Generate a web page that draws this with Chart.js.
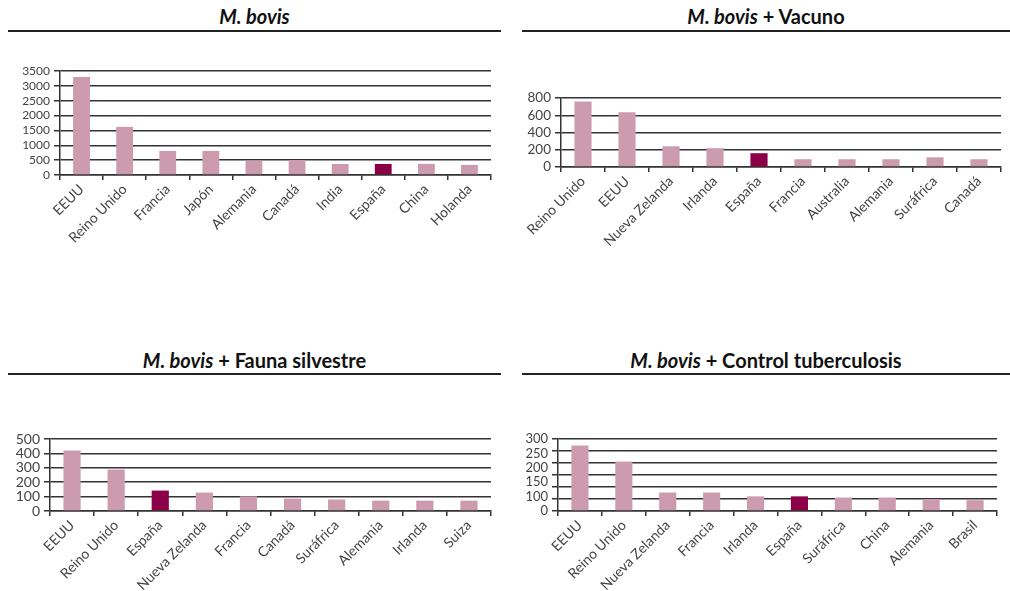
<!DOCTYPE html>
<html>
<head>
<meta charset="utf-8">
<script src="https://cdn.jsdelivr.net/npm/chart.js@4.4.0/dist/chart.umd.min.js"></script>
<style>
  body { margin: 0; background: #fff; width: 1010px; height: 591px; overflow: hidden; position: relative; font-family: Lato, sans-serif; }
  .title { position: absolute; text-align: center; font-weight: bold; font-size: 20px; line-height: 22px; color: #111; }
  .rule { position: absolute; height: 0; border-top: 2px solid #222; }
  .box { position: absolute; }
</style>
</head>
<body>
<div class="title" style="left:8px;top:5px;width:493px"><i>M. bovis</i></div>
<div class="rule" style="left:8px;top:30px;width:493px"></div>
<div class="title" style="left:522px;top:5px;width:488px"><i>M. bovis</i> + Vacuno</div>
<div class="rule" style="left:522px;top:30px;width:488px"></div>
<div class="title" style="left:8px;top:349px;width:493px"><i>M. bovis</i> + Fauna silvestre</div>
<div class="rule" style="left:8px;top:373px;width:493px"></div>
<div class="title" style="left:522px;top:349px;width:488px"><i>M. bovis</i> + Control tuberculosis</div>
<div class="rule" style="left:522px;top:373px;width:488px"></div>

<div class="box" style="left:0;top:55px;width:505px;height:200px"><canvas id="c1"></canvas></div>
<div class="box" style="left:505px;top:60px;width:505px;height:200px"><canvas id="c2"></canvas></div>
<div class="box" style="left:0;top:400px;width:505px;height:191px"><canvas id="c3"></canvas></div>
<div class="box" style="left:505px;top:400px;width:505px;height:191px"><canvas id="c4"></canvas></div>

<script>
// datos de cada grafico
const cats1 = ['EEUU', 'Reino Unido', 'Francia', 'Japón', 'Alemania', 'Canadá', 'India', 'España', 'China', 'Holanda'];
const vals1 = [3300, 1620, 810, 810, 480, 505, 370, 370, 375, 340];
const ticks1 = ['0', '500', '1000', '1500', '2000', '2500', '3000', '3500'];

const cats2 = ['Reino Unido', 'EEUU', 'Nueva Zelanda', 'Irlanda', 'España', 'Francia', 'Australia', 'Alemania', 'Suráfrica', 'Canadá'];
const vals2 = [760, 635, 240, 218, 160, 90, 90, 90, 112, 90];
const ticks2 = ['0', '200', '400', '600', '800'];

const cats3 = ['EEUU', 'Reino Unido', 'España', 'Nueva Zelanda', 'Francia', 'Canadá', 'Suráfrica', 'Alemania', 'Irlanda', 'Suiza'];
const vals3 = [420, 288, 142, 128, 102, 86, 80, 72, 72, 72];
const ticks3 = ['0', '100', '200', '300', '400', '500'];

const cats4 = ['EEUU', 'Reino Unido', 'Nueva Zelanda', 'Francia', 'Irlanda', 'España', 'Suráfrica', 'China', 'Alemania', 'Brasil'];
const vals4 = [273, 206, 77, 77, 61, 61, 56, 56, 50, 45];
const ticks4 = ['0', '100', '150', '200', '250', '300'];

const PINK = '#CC9BAE';
const SPAIN = '#8C0048';
const LINE = '#333';

function makeChart(id, cats, vals, yMax, yStep, tickLabels, b) {
	new Chart(document.getElementById(id), {
		type: 'bar',
		data: {
			labels: cats,
			datasets: [{
				data: vals,
				yAxisID: 'y',
				backgroundColor: cats.map(c => c === 'España' ? SPAIN : PINK),
				barPercentage: 0.39,
				categoryPercentage: 1
			}]
		},
		options: {
			responsive: true,
			maintainAspectRatio: false,
			animation: false,
			layout: { padding: { top: b.padTop, right: b.padRight, left: 0, bottom: 0 } },
			plugins: { legend: { display: false }, tooltip: { enabled: false } },
			scales: {
				x: {
					grid: { display: true, drawOnChartArea: false, drawTicks: true, tickLength: 5, color: LINE, lineWidth: 1.5, offset: true },
					border: { display: true, color: LINE, width: 1.5 },
					ticks: { autoSkip: false, maxRotation: 45, minRotation: 45, padding: 1, color: '#444', font: { family: 'Lato', size: 14 } },
					afterFit: s => { s.height = b.xHeight; }
				},
				// etiquetas del eje y (repartidas igual que en el original)
				yLab: {
					type: 'linear',
					position: 'left',
					weight: 1,
					min: 0,
					max: tickLabels.length - 1,
					grid: { display: false, drawTicks: false },
					border: { display: false },
					ticks: { stepSize: 1, autoSkip: false, padding: 4, color: '#444', font: { family: 'Lato', size: b.yFont }, callback: v => tickLabels[Math.round(v)] },
					afterFit: s => { s.width = b.yWidth - 6; }
				},
				y: {
					type: 'linear',
					position: 'left',
					weight: 0,
					min: 0,
					max: yMax,
					grid: { color: LINE, lineWidth: 1.5, drawTicks: true, tickLength: 6 },
					border: { display: true, color: LINE, width: 1.5 },
					ticks: { display: false, stepSize: yStep, autoSkip: false },
					afterFit: s => { s.width = 6; }
				}
			}
		}
	});
}

makeChart('c1', cats1, vals1, 3500, 500, ticks1, { padTop: 16, padRight: 14, yWidth: 60, xHeight: 80, yFont: 12 });
makeChart('c2', cats2, vals2, 800, 200, ticks2, { padTop: 38, padRight: 9, yWidth: 56, xHeight: 93, yFont: 13.5 });
makeChart('c3', cats3, vals3, 500, 100, ticks3, { padTop: 39, padRight: 14, yWidth: 50, xHeight: 80, yFont: 14 });
makeChart('c4', cats4, vals4, 300, 50, ticks4, { padTop: 39, padRight: 13, yWidth: 53, xHeight: 80, yFont: 13 });
</script>
</body>
</html>
